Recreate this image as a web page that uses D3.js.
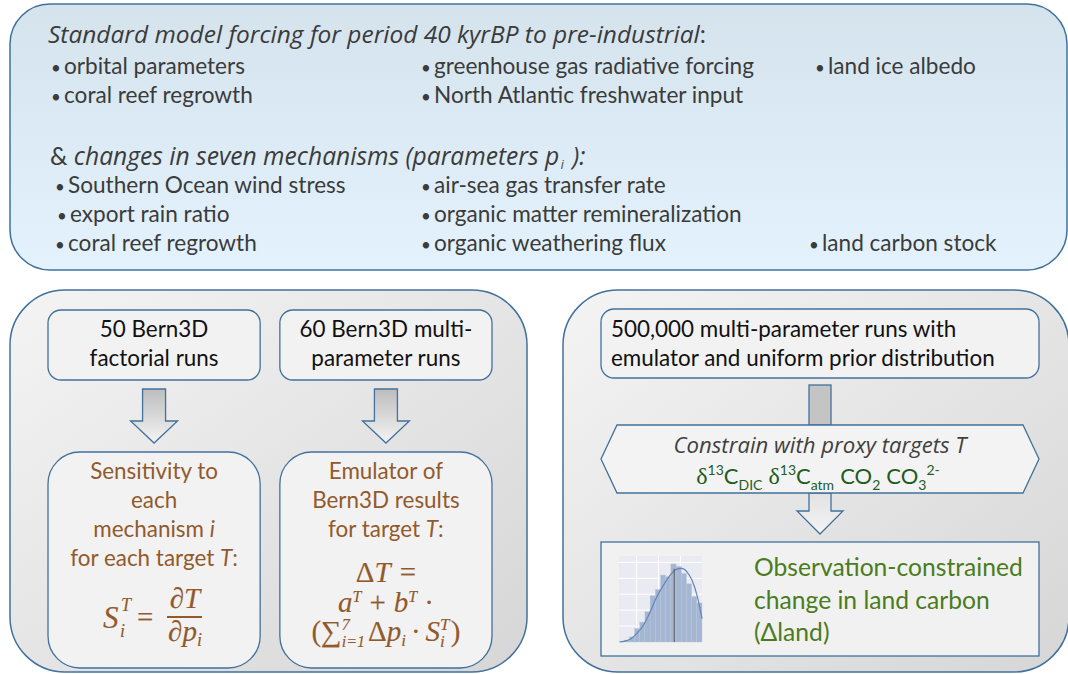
<!DOCTYPE html>
<html><head><meta charset="utf-8">
<script src="https://cdn.jsdelivr.net/npm/d3@7"></script>
<style>body{margin:0;background:#fff}svg{display:block}</style>
</head><body>
<svg id="c" width="1068" height="674"></svg>
<script>
// ---------- content ----------
const headingText = "Standard model forcing for period 40 kyrBP to pre-industrial";
const forcingRows = [
  ["orbital parameters", "greenhouse gas radiative forcing", "land ice albedo"],
  ["coral reef regrowth", "North Atlantic freshwater input", null]
];
const mechanismHeading = "changes in seven mechanisms (parameters ";
const mechanismRows = [
  ["Southern Ocean wind stress", "air-sea gas transfer rate", null],
  ["export rain ratio", "organic matter remineralization", null],
  ["coral reef regrowth", "organic weathering flux", "land carbon stock"]
];
const runBoxes = [["50 Bern3D", "factorial runs"], ["60 Bern3D multi-", "parameter runs"]];
const sensitivityLines = ["Sensitivity to", "each", "mechanism |i|", "for each target |T|:"];
const emulatorLines = ["Emulator of", "Bern3D results", "for target |T|:"];
const emulatorRunLines = ["500,000 multi-parameter runs with", "emulator and uniform prior distribution"];
const constrainText = "Constrain with proxy targets T";
const proxyTargets = [
  {pre: "\u03b4", sup: "13", main: "C", sub: "DIC"},
  {pre: "\u03b4", sup: "13", main: "C", sub: "atm"},
  {pre: "", sup: "", main: "CO", sub: "2"},
  {pre: "", sup: "", main: "CO", sub: "3", post: "2-"}
];
const outcomeLines = ["Observation-constrained", "change in land carbon", "(\u0394land)"];
// posterior histogram of land-carbon change (bin index, relative counts)
const histBinCounts = [0.05, 0.12, 0.32, 0.85, 1.25, 1.9, 2.9, 3.3, 4.2, 4.1, 4.9, 4.75, 4.3, 3.65, 2.85, 2.45];
const kdeX = [0.2, 0.84, 2.13, 3.42, 4.71, 6.0, 7.29, 8.58, 9.87, 11.16, 12.13, 13.1, 14.06, 15.03, 16.0];
const kdeY = [0.0, 0.04, 0.17, 0.53, 1.05, 1.89, 2.84, 3.57, 4.2, 4.58, 4.62, 4.41, 3.89, 2.94, 1.47];
const histGridX = [3.4, 7.6, 11.85];
const histGridY = [1, 2, 3, 4, 5];
const medianValue = 10.65;

// ---------- styles ----------
const SANS = "Lato, 'Open Sans', sans-serif";
const ITAL = "'Open Sans', Lato, sans-serif";
const SERIF = "'Liberation Serif', 'DejaVu Serif', serif";
const BLUE = "#41719c";
const BROWN = "#925a2c";
const GREY_TXT = "#3b3b3b";

const svg = d3.select("#c");
const defs = svg.append("defs");
function lin(id, x1, y1, x2, y2, stops) {
  const g = defs.append("linearGradient").attr("id", id)
    .attr("x1", x1).attr("y1", y1).attr("x2", x2).attr("y2", y2);
  stops.forEach(s => g.append("stop").attr("offset", s[0]).attr("stop-color", s[1]));
}
lin("gTop", 0, 0, 0, 1, [[0, "#d5e3ed"], [1, "#e3f2fc"]]);
lin("gPanel", 0, 0, 1, 1, [[0, "#f4f4f4"], [1, "#d6d6d6"]]);
lin("gArrow", 0, 0, 0, 1, [[0, "#bdbdbd"], [1, "#f4f4f4"]]);
lin("gArrow2", 0, 0, 0, 1, [[0, "#e2e2e2"], [1, "#f4f4f4"]]);

// size a text so that its width equals a target width
function fitSize(sel, target) {
  const fs = +sel.attr("font-size") || 20;
  const w = sel.node().getComputedTextLength();
  const s = fs * target / w;
  sel.attr("font-size", s);
  return s;
}
// rich text: "|...|" toggles italic
function rich(sel, str) {
  str.split("|").forEach((s, i) => {
    if (!s) return;
    sel.append("tspan").attr("font-style", i % 2 ? "italic" : null).text(s);
  });
}
// math-like line: parts {t, it, fs, shift, back, font}
function mathLine(sel, parts) {
  let cur = 0, prev = null;
  parts.forEach(p => {
    const ts = sel.append("tspan").text(p.t);
    if (p.it) ts.attr("font-style", "italic");
    if (p.fs) ts.attr("font-size", p.fs);
    if (p.font) ts.attr("font-family", p.font);
    const sh = p.shift || 0;
    if (sh !== cur) { ts.attr("dy", sh - cur); cur = sh; }
    let dx = p.dx || 0;
    if (p.back && prev) dx -= prev.node().getComputedTextLength();
    if (dx) ts.attr("dx", dx);
    prev = ts;
  });
}

// ---------- top box ----------
svg.append("rect").attr("x", 10).attr("y", 4).attr("width", 1057).attr("height", 266)
  .attr("rx", 40).attr("fill", "url(#gTop)").attr("stroke", BLUE).attr("stroke-width", 1.5);

const topText = svg.append("g").attr("font-family", SANS).attr("fill", GREY_TXT);
const h1 = topText.append("text").attr("x", 48).attr("y", 43).attr("font-size", 20);
h1.append("tspan").attr("font-style", "italic").attr("font-family", ITAL).text(headingText);
h1.append("tspan").text(":");
fitSize(h1, 658);

// measure one bullet line to set group size
const probe = topText.append("text").attr("font-size", 20).text(forcingRows[0][0]);
const bulletFs = fitSize(probe, 181);
probe.remove();
topText.attr("font-size", bulletFs);

function bulletRows(rows, ys, bx) {
  rows.forEach((row, r) => row.forEach((t, c) => {
    if (!t) return;
    const x = bx[r][c];
    topText.append("text").attr("x", x).attr("y", ys[r]).attr("font-size", bulletFs * 0.75).text("\u2022");
    topText.append("text").attr("x", x + 13).attr("y", ys[r]).text(t);
  }));
}
bulletRows(forcingRows, [74, 103], [[51, 421, 815], [51, 421, 815]]);

const h2 = topText.append("text").attr("x", 50).attr("y", 165).attr("font-size", 20);
h2.append("tspan").attr("font-family", SANS).text("& ");
h2.append("tspan").attr("font-style", "italic").attr("font-family", ITAL).text(mechanismHeading);
h2.append("tspan").attr("font-style", "italic").attr("font-family", ITAL).text("p");
h2.append("tspan").attr("font-style", "italic").attr("font-family", ITAL).attr("font-size", 12).attr("dx", 1.5).attr("dy", 4).text("i");
h2.append("tspan").attr("font-style", "italic").attr("font-family", ITAL).attr("dy", -4).attr("dx", 2).text(" ):");
fitSize(h2, 533);
bulletRows(mechanismRows, [193, 222, 251], [[55, 421, 809], [57, 421, 809], [55, 421, 809]]);

// ---------- bottom panels ----------
svg.append("rect").attr("x", 10).attr("y", 290).attr("width", 517).attr("height", 382)
  .attr("rx", 55).attr("fill", "url(#gPanel)").attr("stroke", BLUE).attr("stroke-width", 1.5);
svg.append("rect").attr("x", 563).attr("y", 290).attr("width", 506).attr("height", 382)
  .attr("rx", 55).attr("fill", "url(#gPanel)").attr("stroke", BLUE).attr("stroke-width", 1.5);

// common size for box texts
const probe2 = svg.append("text").attr("font-family", SANS).attr("font-size", 20).text(runBoxes[0][1]);
const boxFs = fitSize(probe2, 129);
probe2.remove();

const colX = d3.scaleBand().domain([0, 1]).range([48, 492]).paddingInner(0.085);
function downArrow(cx, y0, y1, y2, sw, hw, fill) {
  const p = d3.path();
  p.moveTo(cx - sw, y0); p.lineTo(cx + sw, y0); p.lineTo(cx + sw, y1); p.lineTo(cx + hw, y1);
  p.lineTo(cx, y2); p.lineTo(cx - hw, y1); p.lineTo(cx - sw, y1); p.closePath();
  svg.append("path").attr("d", p.toString()).attr("fill", fill).attr("stroke", BLUE).attr("stroke-width", 1.3);
}
runBoxes.forEach((lines, i) => {
  const x = colX(i), w = colX.bandwidth(), cx = x + w / 2;
  svg.append("rect").attr("x", x).attr("y", 310).attr("width", w).attr("height", 70).attr("rx", 13)
    .attr("fill", "#f2f2f2").attr("stroke", BLUE).attr("stroke-width", 1.3);
  lines.forEach((t, k) => svg.append("text").attr("x", cx).attr("y", 337 + k * 29)
    .attr("text-anchor", "middle").attr("font-family", SANS).attr("font-size", boxFs).attr("fill", "#111").text(t));
  downArrow(cx, 389, 421, 443, 11.5, 23.5, "url(#gArrow)");
  svg.append("rect").attr("x", x).attr("y", 452).attr("width", w).attr("height", 216).attr("rx", 32)
    .attr("fill", "#f2f2f2").attr("stroke", BLUE).attr("stroke-width", 1.3);
  const lines2 = i === 0 ? sensitivityLines : emulatorLines;
  lines2.forEach((t, k) => {
    const tx = svg.append("text").attr("x", cx).attr("y", 479 + k * 29).attr("text-anchor", "middle")
      .attr("font-family", SANS).attr("font-size", boxFs).attr("fill", BROWN);
    rich(tx, t);
  });
});

// --- math: sensitivity formula
const m = svg.append("g").attr("font-family", SERIF).attr("fill", BROWN)
  .attr("stroke", BROWN).attr("stroke-width", 0.15);
m.append("text").attr("x", 103).attr("y", 628).attr("font-size", 31).attr("font-style", "italic").text("S");
m.append("text").attr("x", 121).attr("y", 611).attr("font-size", 18).attr("font-style", "italic").text("T");
m.append("text").attr("x", 120).attr("y", 637).attr("font-size", 18).attr("font-style", "italic").text("i");
m.append("text").attr("x", 137).attr("y", 627).attr("font-size", 29).text("=");
m.append("text").attr("x", 185).attr("y", 608).attr("text-anchor", "middle").attr("font-size", 29).attr("font-style", "italic").text("\u2202T");
m.append("line").attr("x1", 167).attr("x2", 202).attr("y1", 617).attr("y2", 617).attr("stroke-width", 2);
const den = m.append("text").attr("x", 185).attr("y", 641).attr("text-anchor", "middle").attr("font-size", 29);
mathLine(den, [{t: "\u2202p", it: 1}, {t: "i", it: 1, fs: 18, shift: 5}]);

// --- math: emulator formula
const c1 = colX(1) + colX.bandwidth() / 2;
const e1 = m.append("text").attr("x", c1).attr("y", 582).attr("text-anchor", "middle").attr("font-size", 29);
mathLine(e1, [{t: "\u0394"}, {t: "T", it: 1}, {t: "=", dx: 9}]);
const e2 = m.append("text").attr("x", c1).attr("y", 612).attr("text-anchor", "middle").attr("font-size", 29);
mathLine(e2, [{t: "a", it: 1}, {t: "T", it: 1, fs: 16, shift: -10}, {t: "+", dx: 8}, {t: "b", it: 1, dx: 8},
  {t: "T", it: 1, fs: 16, shift: -10}, {t: "\u00b7", dx: 7}]);
const e3 = m.append("text").attr("x", c1).attr("y", 641).attr("text-anchor", "middle").attr("font-size", 29);
mathLine(e3, [{t: "(\u2211"}, {t: "7", it: 1, fs: 16, shift: -11}, {t: "i=1", it: 1, fs: 16, shift: 6, back: 1},
  {t: "\u0394", dx: 3}, {t: "p", it: 1}, {t: "i", it: 1, fs: 17, shift: 5}, {t: "\u00b7", dx: 5},
  {t: "S", it: 1, dx: 5}, {t: "T", it: 1, fs: 17, shift: -11}, {t: "i", it: 1, fs: 17, shift: 6, back: 1}, {t: ")", dx: 6}]);

// ---------- right panel ----------
svg.append("rect").attr("x", 601).attr("y", 309).attr("width", 438).attr("height", 69).attr("rx", 13)
  .attr("fill", "#f2f2f2").attr("stroke", BLUE).attr("stroke-width", 1.3);
emulatorRunLines.forEach((t, k) => svg.append("text").attr("x", 611).attr("y", 337 + k * 29)
  .attr("font-family", SANS).attr("font-size", boxFs).attr("fill", "#111").text(t));

svg.append("rect").attr("x", 809).attr("y", 385).attr("width", 22).attr("height", 40)
  .attr("fill", "#c4c4c4").attr("stroke", BLUE).attr("stroke-width", 1.3);
downArrow(820, 493, 511, 534, 11, 23, "url(#gArrow2)");

const hex = d3.path();
hex.moveTo(617, 425); hex.lineTo(1023, 425); hex.lineTo(1039, 459); hex.lineTo(1023, 493);
hex.lineTo(617, 493); hex.lineTo(601, 459); hex.closePath();
svg.append("path").attr("d", hex.toString()).attr("fill", "#f3f3f3").attr("stroke", BLUE).attr("stroke-width", 1.3);
const ct = svg.append("text").attr("x", 820).attr("y", 453).attr("text-anchor", "middle").attr("font-family", ITAL)
  .attr("font-size", 20).attr("font-style", "italic").attr("fill", "#404040").text(constrainText);
fitSize(ct, 293);

const pt = svg.append("text").attr("x", 818).attr("y", 484).attr("text-anchor", "middle").attr("font-family", SANS)
  .attr("font-size", 22).attr("fill", "#1f5c1f");
const ptParts = [];
proxyTargets.forEach((d, i) => {
  const sp = i > 0 ? 6 : 0;
  if (d.pre) ptParts.push({t: d.pre, font: SERIF, fs: 24, dx: sp});
  if (d.sup) ptParts.push({t: d.sup, fs: 14, shift: -9});
  ptParts.push({t: d.main, dx: d.pre ? 0 : sp});
  ptParts.push({t: d.sub, fs: 14, shift: 6});
  if (d.post) ptParts.push({t: d.post, fs: 14, shift: -9});
});
mathLine(pt, ptParts);

svg.append("rect").attr("x", 601).attr("y", 542).attr("width", 438).attr("height", 114)
  .attr("fill", "#f1f1f1").attr("stroke", BLUE).attr("stroke-width", 1.3);

// histogram
const hx = d3.scaleLinear().domain([0, 16]).range([619, 702]);
const hy = d3.scaleLinear().domain([0, 5.4]).range([642, 556]);
const hg = svg.append("g");
hg.append("rect").attr("x", hx(0)).attr("y", hy(5.4)).attr("width", hx(16) - hx(0)).attr("height", hy(0) - hy(5.4)).attr("fill", "#eaeaf2");
hg.selectAll(".gx").data(histGridX).join("line").attr("x1", d => hx(d)).attr("x2", d => hx(d))
  .attr("y1", hy(0)).attr("y2", hy(5.4)).attr("stroke", "#fff").attr("stroke-width", 1);
hg.selectAll(".gy").data(histGridY).join("line").attr("y1", d => hy(d)).attr("y2", d => hy(d))
  .attr("x1", hx(0)).attr("x2", hx(16)).attr("stroke", "#fff").attr("stroke-width", 1);
hg.selectAll(".bar").data(histBinCounts).join("rect").attr("x", (d, i) => hx(i)).attr("width", hx(1) - hx(0))
  .attr("y", d => hy(d)).attr("height", d => hy(0) - hy(d)).attr("fill", "#a4b6d1").attr("stroke", "#b9c6da").attr("stroke-width", 0.4);
hg.append("path").datum(kdeX.map((x, i) => [x, kdeY[i]]))
  .attr("d", d3.line().x(d => hx(d[0])).y(d => hy(d[1])).curve(d3.curveMonotoneX))
  .attr("fill", "none").attr("stroke", "#6185b8").attr("stroke-width", 1.2);
hg.append("line").attr("x1", hx(medianValue)).attr("x2", hx(medianValue)).attr("y1", hy(0)).attr("y2", hy(4.6))
  .attr("stroke", "#5a5a5a").attr("stroke-width", 1);

const probe3 = svg.append("text").attr("font-family", SANS).attr("font-size", 20).text(outcomeLines[0]);
const outFs = fitSize(probe3, 269);
probe3.remove();
outcomeLines.forEach((t, k) => svg.append("text").attr("x", 754).attr("y", 576 + k * 32.5)
  .attr("font-family", SANS).attr("font-size", outFs).attr("fill", "#4a7c1c").text(t));
</script>
</body></html>
